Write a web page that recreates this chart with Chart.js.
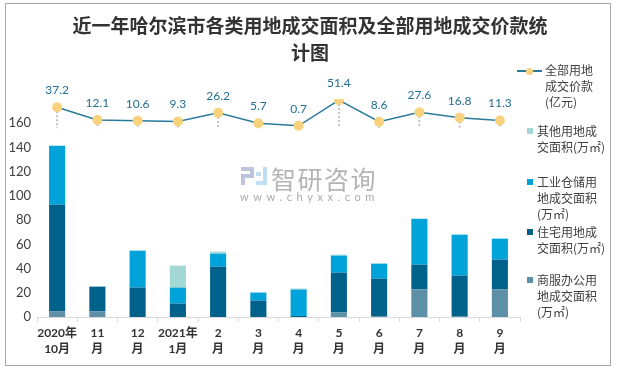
<!DOCTYPE html>
<html>
<head>
<meta charset="utf-8">
<script src="https://cdn.jsdelivr.net/npm/chart.js@4.4.1/dist/chart.umd.min.js"></script>
<style>
  body { margin: 0; background: #fff; }
  #wrap { position: relative; width: 620px; height: 370px; font-family: "Noto Sans CJK SC", sans-serif; }
  #frame { position: absolute; left: 5px; top: 3px; width: 604px; height: 361px; border: 1px solid #a6a6a6; pointer-events: none; }
  #title { position: absolute; left: 0; top: 12px; width: 620px; text-align: center; font-size: 19px; line-height: 26.5px; font-weight: bold; color: #333; }
  .lg { position: absolute; font-size: 12px; line-height: 16px; color: #404040; white-space: nowrap; }
  .sq { position: absolute; width: 6px; height: 6px; }
  .wm { position: absolute; color: #b4b4b4; white-space: nowrap; }
</style>
</head>
<body>
<div id="wrap">
  <canvas id="myChart" width="620" height="370"></canvas>

  <div id="title">近一年哈尔滨市各类用地成交面积及全部用地成交价款统<br>计图</div>

  <!-- watermark -->
  <div style="position:absolute;left:241px;top:167px;width:13px;height:18px;">
    <div style="position:absolute;left:0;top:0;width:13px;height:4px;background:#bcc5dc;"></div>
    <div style="position:absolute;left:9px;top:0;width:4px;height:10px;background:#bcc5dc;"></div>
    <div style="position:absolute;left:0;top:7px;width:13px;height:4px;background:#bcc5dc;"></div>
    <div style="position:absolute;left:0;top:7px;width:4px;height:11px;background:#bcc5dc;"></div>
  </div>
  <div style="position:absolute;left:256px;top:167px;width:11px;height:18px;">
    <div style="position:absolute;left:7px;top:0;width:4px;height:18px;background:#c0def3;"></div>
    <div style="position:absolute;left:0;top:14px;width:11px;height:4px;background:#c0def3;"></div>
    <div style="position:absolute;left:0;top:5px;width:5px;height:4px;background:#c0def3;"></div>
  </div>
  <div class="wm" style="left:271px;top:161px;font-size:25px;line-height:34px;letter-spacing:1.5px;">智研咨询</div>
  <div class="wm" style="left:240px;top:189px;font-size:11px;line-height:16px;letter-spacing:4.6px;font-family:Lato,sans-serif;color:#aaa;">www.chyxx.com</div>

  <!-- legend -->
  <div style="position:absolute;left:517px;top:70px;width:25px;height:2px;background:#2a7a9a;"></div>
  <div style="position:absolute;left:526px;top:68px;width:7px;height:7px;border-radius:50%;background:#f9d27e;"></div>
  <div class="lg" style="left:545px;top:62px;">全部用地<br>成交价款<br>(亿元)</div>

  <div class="sq" style="left:527px;top:128px;background:#a3d8d5;"></div>
  <div class="lg" style="left:537px;top:123px;">其他用地成<br>交面积(万㎡)</div>

  <div class="sq" style="left:527px;top:179px;background:#00a2da;"></div>
  <div class="lg" style="left:537px;top:174px;">工业仓储用<br>地成交面积<br>(万㎡)</div>

  <div class="sq" style="left:527px;top:229px;background:#00618a;"></div>
  <div class="lg" style="left:537px;top:224px;">住宅用地成<br>交面积(万㎡)</div>

  <div class="sq" style="left:527px;top:277px;background:#5d8fa7;"></div>
  <div class="lg" style="left:537px;top:272px;">商服办公用<br>地成交面积<br>(万㎡)</div>

  <div id="frame"></div>
</div>

<script>
//Months on the x axis (two lines each)
let months = [
  ["2020年", "10月"], ["11", "月"], ["12", "月"], ["2021年", "1月"],
  ["2", "月"], ["3", "月"], ["4", "月"], ["5", "月"],
  ["6", "月"], ["7", "月"], ["8", "月"], ["9", "月"]
];
//Land area sold, 万㎡
let commercialArea = [4.8, 4.8, 0, 0, 0, 0, 0, 3.7, 0.8, 22.7, 0.8, 22.7];
let residentialArea = [87.9, 20.3, 24.3, 11.1, 41.6, 13.6, 0.8, 33, 30.9, 20.5, 33.4, 24.7];
let industrialArea = [48.6, 0, 30.5, 13.2, 10.7, 6.6, 21.9, 14, 12.4, 37.9, 33.8, 17.3];
let otherArea = [0, 0, 0, 18.1, 1.7, 0, 0.8, 0.8, 0, 0, 0, 0];
//Total land price, 亿元
let totalPrice = [37.2, 12.1, 10.6, 9.3, 26.2, 5.7, 0.7, 51.4, 8.6, 27.6, 16.8, 11.3];
//Left axis ticks
let yTicks = [0, 20, 40, 60, 80, 100, 120, 140, 160];

let lineColor = "#2a7a9a",
  dotColor = "#f9d27e",
  labelColor = "#1f6f93";

//dotted drop lines under the price points + value labels above them
let priceMarks = {
  id: "priceMarks",
  beforeDatasetsDraw(chart) {
    let meta = chart.getDatasetMeta(0);
    let y1 = chart.scales.y1;
    let ctx = chart.ctx;
    ctx.save();
    ctx.strokeStyle = "#bfbfbf";
    ctx.lineWidth = 2;
    ctx.setLineDash([2, 2]);
    meta.data.forEach((pt) => {
      ctx.beginPath();
      ctx.moveTo(pt.x, pt.y);
      ctx.lineTo(pt.x, y1.getPixelForValue(-4));
      ctx.stroke();
    });
    ctx.restore();
  },
  afterDatasetsDraw(chart) {
    let meta = chart.getDatasetMeta(0);
    let ctx = chart.ctx;
    ctx.save();
    ctx.fillStyle = labelColor;
    ctx.font = "12px Lato, sans-serif";
    ctx.textAlign = "center";
    ctx.textBaseline = "middle";
    meta.data.forEach((pt, i) => {
      ctx.fillText(totalPrice[i].toFixed(1), pt.x, pt.y - 17);
    });
    ctx.restore();
  },
};

let ctx = document.getElementById("myChart").getContext("2d");
let myChart = new Chart(ctx, {
  data: {
    labels: months,
    datasets: [
      {
        type: "line",
        label: "全部用地成交价款(亿元)",
        data: totalPrice,
        yAxisID: "y1",
        borderColor: lineColor,
        borderWidth: 1.5,
        pointRadius: 5,
        pointBackgroundColor: dotColor,
        pointBorderColor: dotColor,
        pointBorderWidth: 0,
        order: 0,
      },
      { type: "bar", label: "商服办公用地成交面积(万㎡)", data: commercialArea, backgroundColor: "#5d8fa7", stack: "s", order: 1 },
      { type: "bar", label: "住宅用地成交面积(万㎡)", data: residentialArea, backgroundColor: "#00618a", stack: "s", order: 1 },
      { type: "bar", label: "工业仓储用地成交面积(万㎡)", data: industrialArea, backgroundColor: "#00a2da", stack: "s", order: 1 },
      { type: "bar", label: "其他用地成交面积(万㎡)", data: otherArea, backgroundColor: "#a3d8d5", stack: "s", order: 1 },
    ],
  },
  options: {
    responsive: false,
    animation: false,
    layout: { padding: { left: 8, right: 100, top: 99, bottom: 8 } },
    datasets: { bar: { barPercentage: 0.4, categoryPercentage: 1 } },
    plugins: {
      legend: { display: false },
      tooltip: { enabled: false },
      title: { display: false },
    },
    scales: {
      x: {
        stacked: true,
        offset: true,
        grid: { offset: true, drawOnChartArea: false, color: "#d9d9d9", tickLength: 5 },
        border: { color: "#d9d9d9" },
        ticks: {
          color: "#333",
          padding: 3,
          maxRotation: 0,
          autoSkip: false,
          font: { family: "Lato, 'Noto Sans CJK SC'", size: 12, weight: "bold", lineHeight: 1.35 },
        },
        afterFit(scale) {
          scale.height = 45;
        },
      },
      y: {
        stacked: true,
        min: 0,
        max: 180,
        grid: { display: false, drawTicks: false },
        border: { display: false },
        afterBuildTicks(scale) {
          scale.ticks = yTicks.map((v) => ({ value: v }));
        },
        ticks: {
          color: "#404040",
          padding: 6,
          font: { family: "Lato, sans-serif", size: 13 },
        },
        afterFit(scale) {
          scale.width = 29;
        },
      },
      y1: {
        display: false,
        min: -377,
        max: 53.6,
      },
    },
  },
  plugins: [priceMarks],
});
</script>
</body>
</html>
